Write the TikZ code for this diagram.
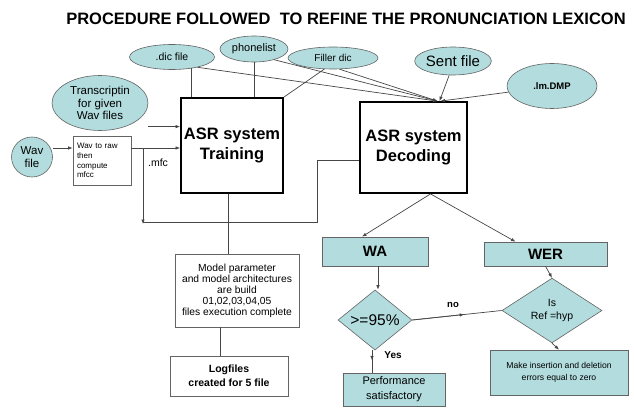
\documentclass[tikz,border=0pt]{standalone}
\usepackage{fontspec}
\setmainfont{Liberation Sans}
\usetikzlibrary{shapes.geometric,arrows.meta,calc}
\definecolor{tealfill}{RGB}{178,220,221}
\definecolor{linegray}{RGB}{70,70,70}
\definecolor{bordergray}{RGB}{100,100,100}
\newcommand{\fs}[2]{\fontsize{#1}{#2}\selectfont}
\tikzset{
  ln/.style={draw=linegray, line width=0.7pt},
  arr/.style={ln, -{Latex[length=4.5pt,width=3.5pt]}},
  ell/.style={ellipse, draw=bordergray, fill=tealfill, inner sep=0pt, line width=0.6pt, align=center},
  bigbox/.style={rectangle, draw=black, line width=1.8pt, fill=white, inner sep=0pt, align=center, font=\bfseries\fs{16.5}{20}},
  wbox/.style={rectangle, draw=bordergray, fill=white, inner sep=0pt, line width=0.6pt, align=center},
  tbox/.style={rectangle, draw=bordergray, fill=tealfill, inner sep=0pt, line width=0.6pt, align=center},
  dia/.style={diamond, draw=bordergray, fill=tealfill, inner sep=0pt, line width=0.6pt, align=center},
  lbl/.style={inner sep=0pt, align=center}
}
\begin{document}
\begin{tikzpicture}[x=1pt, y=-1pt]
\useasboundingbox (0,0) rectangle (634,409);
% title
\node[lbl, font=\bfseries\fs{16.5}{18}] (title) at (346,19) {PROCEDURE FOLLOWED\ \ TO REFINE THE PRONUNCIATION LEXICON};
% ellipses
\node[ell, minimum width=85pt, minimum height=25pt, font=\fs{10.5}{12}] (dic) at (172,57) {.dic file};
\node[ell, minimum width=68pt, minimum height=26pt, font=\fs{11}{12}] (phone) at (254,49) {phonelist};
\node[ell, minimum width=90pt, minimum height=22pt, font=\fs{10}{12}] (filler) at (333,58) {Filler dic};
\node[ell, minimum width=73pt, minimum height=28pt, font=\fs{15}{16}] (sent) at (453,61) {Sent file};
\node[ell, minimum width=90pt, minimum height=45pt, font=\bfseries\fs{9.5}{12}] (lm) at (552,86) {.lm.DMP};
\node[ell, minimum width=96pt, minimum height=55pt, font=\fs{11.5}{12.5}] (trans) at (100,103) {Transcriptin\\for given\\Wav files};
\node[ell, minimum width=41pt, minimum height=40pt, font=\fs{11.5}{13}] (wav) at (32,157) {Wav\\file};
% boxes
\node[wbox, minimum width=58pt, minimum height=49pt, font=\fs{8}{9.7}, align=left, text width=50pt] (wtr) at (102,160.5) {Wav to raw\\then\\compute\\mfcc};
\node[bigbox, minimum width=102pt, minimum height=95pt] (train) at (232,145.5) {ASR system\\Training};
\node[bigbox, minimum width=107pt, minimum height=91pt] (dec) at (413.5,147.5) {ASR system\\Decoding};
\node[wbox, minimum width=124pt, minimum height=73pt, font=\fs{10.3}{11}] (model) at (237,290.5) {Model parameter\\and model architectures\\are build\\01,02,03,04,05\\files execution complete};
\node[wbox, minimum width=118pt, minimum height=40pt, font=\bfseries\fs{10.5}{14}] (logf) at (229,376) {Logfiles\\created for 5 file};
\node[tbox, minimum width=106pt, minimum height=29pt, font=\bfseries\fs{15}{16}] (wa) at (375,251.5) {WA};
\node[tbox, minimum width=123pt, minimum height=24pt, font=\bfseries\fs{15}{16}] (wer) at (545.5,254) {WER};
\node[dia, minimum width=74pt, minimum height=50pt, font=\fs{15.5}{16}] (d95) at (375,320) {>=95\%};
\node[dia, minimum width=100pt, minimum height=55pt, font=\fs{10.5}{13}] (isref) at (552,310.5) {Is\\Ref =hyp};
\node[tbox, minimum width=102pt, minimum height=33pt, font=\fs{11}{15}] (perf) at (394,389.5) {Performance\\satisfactory};
\node[tbox, minimum width=138pt, minimum height=45pt, font=\fs{8.6}{12}] (mk) at (559,372.5) {Make insertion and deletion\\errors equal to zero};
% labels
\node[lbl, font=\fs{10.5}{12}] (mfc) at (158,163) {.mfc};
\node[lbl, font=\bfseries\fs{9.5}{11}] (no) at (453,305) {no};
\node[lbl, font=\bfseries\fs{10}{11}] (yes) at (393,355) {Yes};
% inputs to training
\draw[ln] (dic.-30) -- (dic.-30 |- train.north);
\draw[ln] (phone.south) -- (phone.south |- train.north);
\draw[ln] (filler.232) -- (train.north east);
% inputs to decoding
\coordinate (dtop) at ($(dec.north)+(24,0)$);
\draw[arr] (dic.-22) -- (dtop);
\draw[arr] (phone.-28) -- (dtop);
\draw[arr] (filler.-60) -- (dtop);
\draw[arr] (sent.-105) -- ($(dtop)+(2,0)$);
\draw[arr] (lm.188) -- ($(dtop)+(3,0)$);
% transcription and wav
\draw[arr] (trans.east |- train.160) -- (train.160);
\coordinate (j) at (143,148);
\coordinate (k) at (143,222);
\coordinate (m) at (317,160);
\draw[arr] (wav.east |- j) -- (wtr.west |- j);
\draw[arr] (wtr.east |- j) -- (train.west |- j);
\draw[arr] (j) -- ($(k)+(0,2)$);
\draw[ln] (dec.west |- m) -- (m) -- (m |- k) -- (k);
% training chain
\coordinate (tb) at ($(train.south)+(-4,0)$);
\draw[ln] (tb) -- (tb |- model.north);
\coordinate (lt) at ($(logf.north)+(-9,0)$);
\draw[ln] (lt) -- (lt |- model.south);
% decoding outputs
\coordinate (db) at ($(dec.south)+(17,0)$);
\draw[arr] (db) -- ($(wa.north)+(-13,0)$);
\draw[arr] (db) -- ($(wer.north)+(-30,0)$);
\draw[arr] ($(wa.south)+(3,0)$) coordinate (was) -- (was |- d95.north);
\draw[arr] (wer.south) -- (isref.north);
\draw[arr] (isref.south) -- (mk.north);
% decision outputs
\coordinate (ds) at ($(d95.south)+(-3,0)$);
\draw[ln] (ds) -- (ds |- perf.north);
\draw[arr] (ds) -- ($(ds)!0.45!(ds |- perf.north)$);
\draw[ln] (d95.east) -- (isref.west);
\draw[arr] (d95.east) -- ($(d95.east)!0.58!(isref.west)$);
\end{tikzpicture}
\end{document}
